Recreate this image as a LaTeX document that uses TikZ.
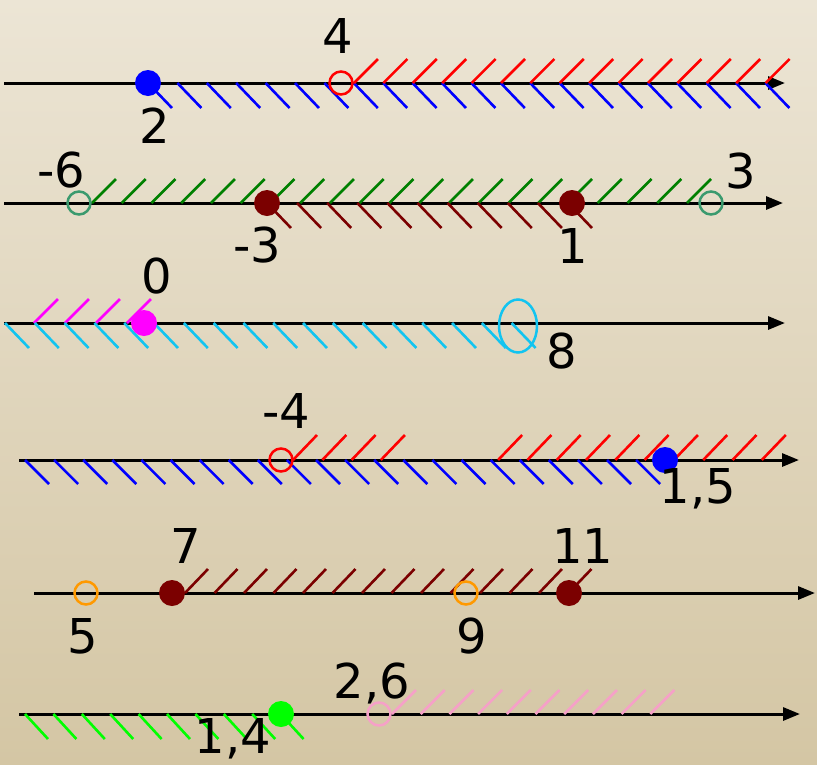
\documentclass[tikz,border=0pt]{standalone}
\usepackage{fontspec}
\newfontfamily\numfont{DejaVu Sans}
\usetikzlibrary{arrows.meta,shapes.geometric}
\definecolor{PaperTop}{RGB}{236,229,213}
\definecolor{PaperMid}{RGB}{240,234,213}
\definecolor{PaperLow}{RGB}{212,198,164}
\definecolor{SetBlue}{HTML}{0000FF}
\definecolor{SetRed}{HTML}{FF0000}
\definecolor{SetSea}{HTML}{3A9A6E}
\definecolor{SetGreen}{HTML}{008000}
\definecolor{SetMaroon}{HTML}{7B0000}
\definecolor{SetMagenta}{HTML}{FF00FF}
\definecolor{SetCyan}{HTML}{12C4F0}
\definecolor{SetOrange}{HTML}{FF9900}
\definecolor{SetLime}{HTML}{00FF00}
\definecolor{SetPink}{HTML}{F6A0C8}

\begin{document}
\begin{tikzpicture}[
    x=1pt,
    y=-1pt,
    axis/.style={line width=3pt, -{Triangle[length=17pt,width=13pt]}},
    hatch/.style={line width=2.6pt},
    solid/.style={circle, inner sep=0pt, minimum size=26pt},
    hollow/.style={circle, inner sep=0pt, minimum size=23pt, line width=2.5pt},
    val/.style={font=\numfont\fontsize{48}{52}\selectfont, inner sep=0pt, anchor=base}
  ]
    \useasboundingbox (0,0) rectangle (817,764);
    \shade[top color=PaperTop, middle color=PaperMid, bottom color=PaperLow] (0,0) rectangle (817,764);

    \coordinate (a1) at (4,83);    \coordinate (b1) at (785,83);
    \coordinate (a2) at (4,203);   \coordinate (b2) at (783,203);
    \coordinate (a3) at (4,323);   \coordinate (b3) at (785,323);
    \coordinate (a4) at (19,460);  \coordinate (b4) at (799,460);
    \coordinate (a5) at (34,593);  \coordinate (b5) at (815,593);
    \coordinate (a6) at (19,714);  \coordinate (b6) at (800,714);

    \foreach \n in {1,...,6}
      \draw[axis] (a\n) -- (b\n);

    \foreach \k in {0,...,21}
      \draw[hatch, SetBlue] (148+\k*29.4,83) -- ++(24,25);
    \foreach \k in {0,...,14}
      \draw[hatch, SetRed] (354+\k*29.4,83) -- ++(24,-24);

    \foreach \k in {0,...,20}
      \draw[hatch, SetGreen] (92+\k*29.75,203) -- ++(24,-24);
    \foreach \k in {0,...,10}
      \draw[hatch, SetMaroon] (267+\k*30.1,203) -- ++(24,25);

    \foreach \k in {0,...,3}
      \draw[hatch, SetMagenta] (34+\k*31,323) -- ++(24,-24);
    \foreach \k in {0,...,17}
      \draw[hatch, SetCyan] (5+\k*29.8,323) -- ++(24,25);

    \foreach \k in {0,1,2,3,7,8,...,16}
      \draw[hatch, SetRed] (293+\k*29.3,460) -- ++(24,-25);
    \foreach \k in {0,...,21}
      \draw[hatch, SetBlue] (25+\k*29.1,460) -- ++(24,24);

    \foreach \k in {0,...,13}
      \draw[hatch, SetMaroon] (185+\k*29.5,593) -- ++(23,-24);

    \foreach \k in {0,...,9}
      \draw[hatch, SetLime] (25+\k*28.4,714) -- ++(23,25);
    \foreach \k in {0,...,9}
      \draw[hatch, SetPink] (392+\k*28.7,714) -- ++(24,-24);

    \node[solid, fill=SetBlue] (p2) at (148,83) {};
    \node[hollow, draw=SetRed] (p4) at (341,83) {};
    \node[hollow, draw=SetSea] (pm6) at (79,203) {};
    \node[solid, fill=SetMaroon] (pm3) at (267,203) {};
    \node[solid, fill=SetMaroon] (p1) at (572,203) {};
    \node[hollow, draw=SetSea] (p3) at (711,203) {};
    \node[solid, fill=SetMagenta] (p0) at (144,323) {};
    \node[ellipse, draw=SetCyan, line width=2.5pt, inner sep=0pt, minimum width=38pt, minimum height=53pt] (p8) at (518,326) {};
    \node[hollow, draw=SetRed] (pm4) at (281,460) {};
    \node[solid, fill=SetBlue] (p15) at (665,460) {};
    \node[hollow, draw=SetOrange] (p5) at (86,593) {};
    \node[solid, fill=SetMaroon] (p7) at (172,593) {};
    \node[hollow, draw=SetOrange] (p9) at (466,593) {};
    \node[solid, fill=SetMaroon] (p11) at (569,593) {};
    \node[solid, fill=SetLime] (p14) at (281,714) {};
    \node[hollow, draw=SetPink] (p26) at (379,714) {};

    \node[val] (t4) at (338,53) {4};
    \node[val] (t2) at (155,143) {2};
    \node[val] (tm6) at (61,187) {-6};
    \node[val] (tm3) at (257,262) {-3};
    \node[val] (t1) at (573,263) {1};
    \node[val] (t3) at (741,188) {3};
    \node[val] (t0) at (157,293) {0};
    \node[val] (t8) at (562,368) {8};
    \node[val] (tm4) at (286,428) {-4};
    \node[val] (t15) at (698,503) {1,5};
    \node[val] (t5) at (83,653) {5};
    \node[val] (t7) at (186,563) {7};
    \node[val] (t9) at (472,653) {9};
    \node[val] (t11) at (583,563) {11};
    \node[val] (t14) at (233,753) {1,4};
    \node[val] (t26) at (372,698) {2,6};
  \end{tikzpicture}
\end{document}
